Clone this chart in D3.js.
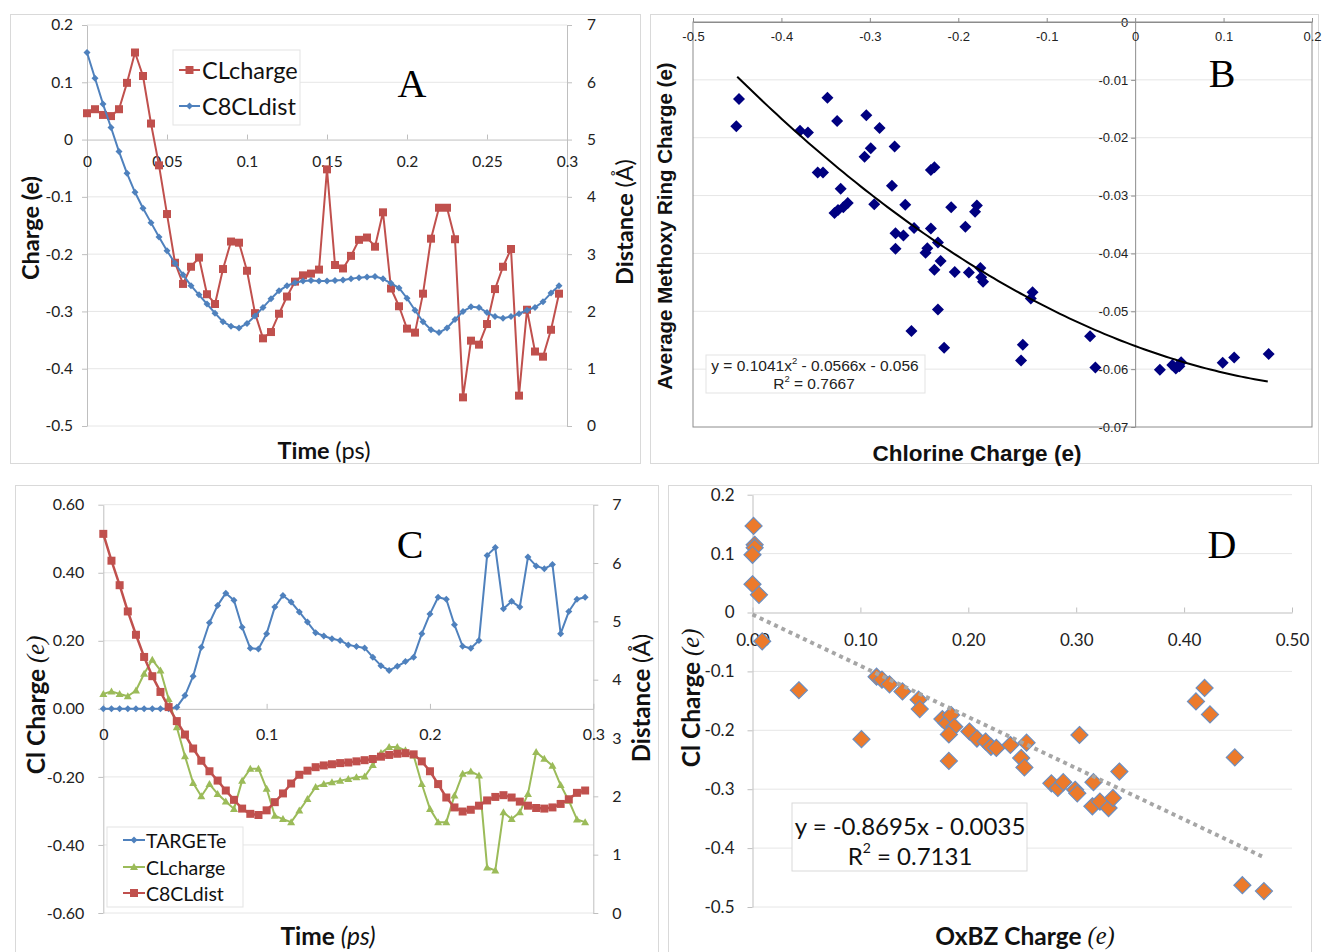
<!DOCTYPE html>
<html><head><meta charset="utf-8">
<script src="https://cdn.jsdelivr.net/npm/d3@7/dist/d3.min.js"></script>
<style>body{margin:0;background:#fff}svg{display:block}</style>
</head><body>
<svg id="chart" width="1322" height="952"></svg>
<script>
// ---------- DATA ----------
const time = [0,0.005,0.01,0.015,0.02,0.025,0.03,0.035,0.04,0.045,0.05,0.055,0.06,0.065,0.07,0.075,0.08,0.085,0.09,0.095,0.1,0.105,0.11,0.115,0.12,0.125,0.13,0.135,0.14,0.145,0.15,0.155,0.16,0.165,0.17,0.175,0.18,0.185,0.19,0.195,0.2,0.205,0.21,0.215,0.22,0.225,0.23,0.235,0.24,0.245,0.25,0.255,0.26,0.265,0.27,0.275,0.28,0.285,0.29,0.295];

// Panel A
const A_CLcharge = [0.046,0.053,0.043,0.041,0.053,0.099,0.152,0.111,0.028,-0.045,-0.130,-0.215,-0.252,-0.222,-0.206,-0.270,-0.287,-0.226,-0.178,-0.180,-0.229,-0.303,-0.347,-0.336,-0.304,-0.274,-0.248,-0.237,-0.234,-0.227,-0.052,-0.219,-0.225,-0.203,-0.175,-0.171,-0.187,-0.127,-0.260,-0.291,-0.330,-0.337,-0.269,-0.173,-0.119,-0.119,-0.174,-0.450,-0.351,-0.358,-0.322,-0.261,-0.222,-0.191,-0.447,-0.297,-0.370,-0.379,-0.332,-0.269];
const A_C8CLdist = [6.52,6.07,5.62,5.21,4.79,4.41,4.08,3.80,3.55,3.30,3.06,2.84,2.64,2.45,2.29,2.13,1.97,1.82,1.74,1.71,1.79,1.92,2.07,2.22,2.36,2.45,2.50,2.53,2.54,2.53,2.53,2.54,2.55,2.57,2.59,2.60,2.61,2.57,2.49,2.41,2.23,2.02,1.82,1.68,1.63,1.71,1.86,2.00,2.08,2.07,1.98,1.91,1.88,1.91,1.96,2.02,2.07,2.17,2.32,2.45];
const A_xTicks = [0,0.05,0.1,0.15,0.2,0.25,0.3];
const A_xLabels = ["0","0.05","0.1","0.15","0.2","0.25","0.3"];
const A_yTicks = [0.2,0.1,0,-0.1,-0.2,-0.3,-0.4,-0.5];
const A_yLabels = ["0.2","0.1","0","-0.1","-0.2","-0.3","-0.4","-0.5"];
const A_y2Ticks = [0,1,2,3,4,5,6,7];
const A_y2Labels = ["0","1","2","3","4","5","6","7"];

// Panel B
const B_x = [-0.448,-0.451,-0.348,-0.337,-0.379,-0.370,-0.304,-0.289,-0.299,-0.306,-0.272,-0.359,-0.353,-0.333,-0.325,-0.330,-0.336,-0.340,-0.295,-0.275,-0.260,-0.231,-0.227,-0.271,-0.262,-0.271,-0.250,-0.231,-0.223,-0.235,-0.237,-0.220,-0.227,-0.208,-0.179,-0.181,-0.192,-0.204,-0.188,-0.175,-0.174,-0.172,-0.223,-0.253,-0.216,-0.116,-0.118,-0.127,-0.129,-0.051,-0.045,0.028,0.042,0.046,0.050,0.052,0.099,0.112,0.151];
const B_y = [-0.0133,-0.0180,-0.0131,-0.0171,-0.0188,-0.0191,-0.0161,-0.0183,-0.0218,-0.0233,-0.0215,-0.0260,-0.0260,-0.0288,-0.0313,-0.0320,-0.0325,-0.0330,-0.0315,-0.0283,-0.0316,-0.0256,-0.0251,-0.0365,-0.0369,-0.0392,-0.0356,-0.0357,-0.0381,-0.0391,-0.0399,-0.0413,-0.0428,-0.0320,-0.0317,-0.0328,-0.0354,-0.0432,-0.0433,-0.0425,-0.0441,-0.0449,-0.0497,-0.0534,-0.0563,-0.0467,-0.0478,-0.0558,-0.0585,-0.0543,-0.0597,-0.0601,-0.0593,-0.0599,-0.0595,-0.0588,-0.0589,-0.0580,-0.0574];
const B_fitCoef = [0.1041,-0.0566,-0.056];
const B_fitRange = [-0.45,0.15];
const B_xTicks = [-0.5,-0.4,-0.3,-0.2,-0.1,0,0.1,0.2];
const B_xLabels = ["-0.5","-0.4","-0.3","-0.2","-0.1","0","0.1","0.2"];
const B_yTicks = [0,-0.01,-0.02,-0.03,-0.04,-0.05,-0.06,-0.07];
const B_yLabels = ["0","-0.01","-0.02","-0.03","-0.04","-0.05","-0.06","-0.07"];

// Panel C
const C_TARGETe = [0,0,0,0,0,0,0,0,0,0.005,0.039,0.096,0.181,0.253,0.304,0.340,0.319,0.240,0.178,0.176,0.221,0.299,0.333,0.314,0.285,0.255,0.224,0.214,0.206,0.201,0.188,0.183,0.179,0.152,0.127,0.113,0.125,0.139,0.152,0.221,0.279,0.328,0.322,0.247,0.184,0.178,0.201,0.451,0.474,0.294,0.316,0.299,0.446,0.420,0.412,0.424,0.221,0.286,0.322,0.328];
const C_CLcharge = [0.044,0.051,0.044,0.037,0.054,0.103,0.144,0.113,0.029,-0.054,-0.139,-0.218,-0.257,-0.221,-0.250,-0.272,-0.294,-0.211,-0.176,-0.176,-0.235,-0.314,-0.324,-0.333,-0.299,-0.265,-0.230,-0.221,-0.216,-0.211,-0.206,-0.201,-0.199,-0.165,-0.130,-0.112,-0.112,-0.122,-0.137,-0.221,-0.294,-0.333,-0.333,-0.255,-0.191,-0.184,-0.196,-0.466,-0.475,-0.304,-0.324,-0.304,-0.250,-0.127,-0.147,-0.167,-0.224,-0.270,-0.325,-0.333];
const C_C8CLdist = [6.50,6.04,5.62,5.17,4.77,4.39,4.06,3.79,3.53,3.29,3.06,2.82,2.61,2.43,2.27,2.10,1.94,1.79,1.70,1.68,1.76,1.90,2.05,2.22,2.37,2.44,2.50,2.53,2.55,2.57,2.58,2.60,2.62,2.64,2.68,2.71,2.73,2.74,2.72,2.60,2.43,2.21,1.98,1.81,1.74,1.77,1.84,1.93,1.99,2.02,1.98,1.91,1.84,1.80,1.79,1.81,1.87,1.95,2.06,2.10];
const C_xTicks = [0,0.1,0.2,0.3];
const C_xLabels = ["0","0.1","0.2","0.3"];
const C_yTicks = [0.6,0.4,0.2,0,-0.2,-0.4,-0.6];
const C_yLabels = ["0.60","0.40","0.20","0.00","-0.20","-0.40","-0.60"];
const C_y2Ticks = [0,1,2,3,4,5,6,7];
const C_y2Labels = ["0","1","2","3","4","5","6","7"];

// Panel D
const D_x = [0.001,0.002,0.002,0.000,0.000,0.006,0.009,0.043,0.101,0.115,0.120,0.127,0.139,0.154,0.155,0.176,0.180,0.184,0.187,0.182,0.182,0.201,0.208,0.216,0.221,0.226,0.239,0.254,0.249,0.252,0.303,0.277,0.283,0.288,0.299,0.301,0.316,0.315,0.322,0.330,0.334,0.340,0.419,0.411,0.424,0.447,0.454,0.474];
const D_y = [0.147,0.115,0.110,0.098,0.048,0.030,-0.049,-0.132,-0.215,-0.109,-0.114,-0.122,-0.134,-0.148,-0.164,-0.181,-0.188,-0.174,-0.194,-0.207,-0.252,-0.202,-0.214,-0.219,-0.228,-0.230,-0.225,-0.221,-0.247,-0.263,-0.208,-0.290,-0.298,-0.288,-0.301,-0.307,-0.288,-0.329,-0.321,-0.332,-0.315,-0.270,-0.128,-0.151,-0.173,-0.246,-0.463,-0.473];
const D_fitCoef = [-0.8695,-0.0035];
const D_fitRange = [0,0.473];
const D_xTicks = [0,0.1,0.2,0.3,0.4,0.5];
const D_xLabels = ["0.00","0.10","0.20","0.30","0.40","0.50"];
const D_yTicks = [0.2,0.1,0,-0.1,-0.2,-0.3,-0.4,-0.5];
const D_yLabels = ["0.2","0.1","0","-0.1","-0.2","-0.3","-0.4","-0.5"];

// ---------- HELPERS ----------
const svg = d3.select("#chart");
svg.append("rect").attr("width",1322).attr("height",952).attr("fill","#fff");
const SANS = "Lato, 'Open Sans', sans-serif";
const ARIAL = "'Liberation Sans', Arial, sans-serif";
const SERIF = "'Liberation Serif', 'Times New Roman', serif";
const AXC = "#bfbfbf", GRID = "#e6e6e6";

function shape(type, s){
  const r = s/2;
  if(type==="square") return `M${-r},${-r}h${s}v${s}h${-s}Z`;
  if(type==="diamond") return `M0,${-r}L${r},0L0,${r}L${-r},0Z`;
  if(type==="triangle") return `M0,${-r}L${r},${r*0.75}L${-r},${r*0.75}Z`;
}
function series(g, xs, ys, xS, yS, color, mk, ms, lw){
  const pts = xs.map((x,i)=>[xS(x), yS(ys[i])]);
  g.append("path").attr("d", d3.line()(pts)).attr("fill","none").attr("stroke",color).attr("stroke-width",lw).attr("stroke-linejoin","round");
  g.selectAll(null).data(pts).enter().append("path")
    .attr("transform",d=>`translate(${d[0]},${d[1]})`).attr("d",shape(mk,ms)).attr("fill",color);
}
function styleAxis(sel, font, size, color, stroke){
  sel.select(".domain").attr("stroke",stroke||AXC);
  sel.selectAll(".tick line").attr("stroke",stroke||AXC);
  sel.selectAll(".tick text").attr("font-family",font).attr("font-size",size).attr("fill",color||"#222");
}
function grid(g, vals, yS, x0, x1){
  g.selectAll(null).data(vals).enter().append("line")
    .attr("x1",x0).attr("x2",x1).attr("y1",d=>yS(d)).attr("y2",d=>yS(d))
    .attr("stroke",GRID).attr("stroke-width",1);
}
function panelBox(x,y,w,h){
  svg.append("rect").attr("x",x+0.5).attr("y",y+0.5).attr("width",w).attr("height",h)
    .attr("fill","none").attr("stroke","#d9d9d9");
}
function rotTitle(g, x, y, parts, size){
  const t = g.append("text").attr("transform",`translate(${x},${y}) rotate(-90)`)
    .attr("text-anchor","middle").attr("dominant-baseline","central").attr("font-size",size).attr("fill","#111");
  parts.forEach(p=>t.append("tspan").text(p.t).attr("font-family",p.f).attr("font-weight",p.w||"normal").attr("font-style",p.s||"normal"));
}
function hTitle(g, x, y, parts, size){
  const t = g.append("text").attr("x",x).attr("y",y)
    .attr("text-anchor","middle").attr("dominant-baseline","central").attr("font-size",size).attr("fill","#111");
  parts.forEach(p=>t.append("tspan").text(p.t).attr("font-family",p.f).attr("font-weight",p.w||"normal").attr("font-style",p.s||"normal"));
}
function letter(x,y,t){
  svg.append("text").attr("x",x).attr("y",y).attr("text-anchor","middle")
    .attr("font-family",SERIF).attr("font-size",40).attr("fill","#000").text(t);
}

// ---------- PANEL A ----------
panelBox(10,14,630,449);
{
  const g = svg.append("g");
  const x = d3.scaleLinear().domain([0,0.3]).range([87,567]);
  const y = d3.scaleLinear().domain([-0.5,0.2]).range([426,25]);
  const y2 = d3.scaleLinear().domain([0,7]).range([426,25]);
  grid(g, A_yTicks.filter(d=>d!==0), y, 87, 567);
  const la = g.append("g").attr("transform","translate(87,0)")
    .call(d3.axisLeft(y).tickValues(A_yTicks).tickFormat((d,i)=>A_yLabels[i]).tickSizeInner(5).tickSizeOuter(0).tickPadding(9));
  styleAxis(la, SANS, 15.5);
  const ra = g.append("g").attr("transform","translate(567,0)")
    .call(d3.axisRight(y2).tickValues(A_y2Ticks).tickFormat((d,i)=>A_y2Labels[i]).tickSizeInner(5).tickSizeOuter(0).tickPadding(15));
  styleAxis(ra, SANS, 15.5);
  const ba = g.append("g").attr("transform",`translate(0,${y(0)})`)
    .call(d3.axisBottom(x).tickValues(A_xTicks).tickFormat((d,i)=>A_xLabels[i]).tickSizeInner(-5).tickSizeOuter(0).tickPadding(16));
  styleAxis(ba, SANS, 15.5);
  series(g, time, A_CLcharge, x, y, "#C0504D", "square", 8, 2);
  series(g, time, A_C8CLdist, x, y2, "#4F81BD", "diamond", 7, 2);
  // legend
  const lg = g.append("g");
  lg.append("rect").attr("x",173).attr("y",50).attr("width",127).attr("height",75).attr("fill","#fff").attr("stroke","#e3e3e3");
  [["CLcharge","#C0504D","square",8,70],["C8CLdist","#4F81BD","diamond",7,106]].forEach(r=>{
    lg.append("line").attr("x1",179).attr("x2",200).attr("y1",r[4]).attr("y2",r[4]).attr("stroke",r[1]).attr("stroke-width",2);
    lg.append("path").attr("transform",`translate(189.5,${r[4]})`).attr("d",shape(r[2],r[3])).attr("fill",r[1]);
    lg.append("text").attr("x",202).attr("y",r[4]).attr("dominant-baseline","central").attr("font-family",SANS).attr("font-size",23.5).attr("fill","#111").text(r[0]);
  });
  rotTitle(g, 30, 228, [{t:"Charge (e)",f:SANS,w:"bold"}], 23.5);
  rotTitle(g, 624, 222, [{t:"Distance ",f:SANS,w:"bold"},{t:"(Å)",f:SANS}], 23.5);
  hTitle(g, 324, 450, [{t:"Time ",f:SANS,w:"bold"},{t:"(ps)",f:SANS}], 23.5);
  letter(412, 97, "A");
}

// ---------- PANEL B ----------
panelBox(650,14,668,449);
{
  const g = svg.append("g");
  const x = d3.scaleLinear().domain([-0.5,0.2]).range([693,1312]);
  const y = d3.scaleLinear().domain([-0.07,0]).range([427,22]);
  grid(g, B_yTicks.filter(d=>d!==0 && d!==-0.07), y, 693, 1312);
  g.append("rect").attr("x",693).attr("y",22).attr("width",619).attr("height",405).attr("fill","none").attr("stroke","#8c8c8c");
  const ya = g.append("g").attr("transform",`translate(${x(0)},0)`)
    .call(d3.axisLeft(y).tickValues(B_yTicks).tickFormat((d,i)=>B_yLabels[i]).tickSizeInner(4).tickSizeOuter(0).tickPadding(3));
  styleAxis(ya, ARIAL, 13, "#222", "#8c8c8c");
  const xa = g.append("g").attr("transform",`translate(0,${y(0)})`)
    .call(d3.axisBottom(x).tickValues(B_xTicks).tickFormat((d,i)=>B_xLabels[i]).tickSizeInner(-4).tickSizeOuter(0).tickPadding(10));
  styleAxis(xa, ARIAL, 13, "#222", "#8c8c8c");
  g.selectAll(null).data(B_x).enter().append("path")
    .attr("transform",(d,i)=>`translate(${x(d)},${y(B_y[i])})`).attr("d",shape("diamond",12)).attr("fill","#000080");
  const fx = d3.range(B_fitRange[0], B_fitRange[1]+1e-9, 0.005);
  const fit = v => B_fitCoef[0]*v*v + B_fitCoef[1]*v + B_fitCoef[2];
  g.append("path").attr("d", d3.line()(fx.map(v=>[x(v),y(fit(v))]))).attr("fill","none").attr("stroke","#000").attr("stroke-width",2);
  g.append("rect").attr("x",706).attr("y",355).attr("width",219).attr("height",38).attr("fill","#fff").attr("stroke","#e3e3e3");
  const eq = g.append("text").attr("x",815).attr("y",365).attr("text-anchor","middle").attr("dominant-baseline","central").attr("font-family",ARIAL).attr("font-size",15.5).attr("fill","#222");
  eq.append("tspan").text("y = 0.1041x");
  eq.append("tspan").text("2").attr("font-size",9.5).attr("dy",-5);
  eq.append("tspan").text(" - 0.0566x - 0.056").attr("dy",5);
  const r2 = g.append("text").attr("x",814).attr("y",383).attr("text-anchor","middle").attr("dominant-baseline","central").attr("font-family",ARIAL).attr("font-size",15.5).attr("fill","#222");
  r2.append("tspan").text("R");
  r2.append("tspan").text("2").attr("font-size",9.5).attr("dy",-5);
  r2.append("tspan").text(" = 0.7667").attr("dy",5);
  rotTitle(g, 664, 226, [{t:"Average Methoxy Ring Charge (e)",f:ARIAL,w:"bold"}], 20.5);
  hTitle(g, 977, 453, [{t:"Chlorine Charge (e)",f:ARIAL,w:"bold"}], 22.5);
  letter(1222, 87, "B");
}

// ---------- PANEL C ----------
panelBox(15,485,643,480);
{
  const g = svg.append("g");
  const x = d3.scaleLinear().domain([0,0.3]).range([103.3,593.3]);
  const y = d3.scaleLinear().domain([-0.6,0.6]).range([913,504.7]);
  const y2 = d3.scaleLinear().domain([0,7]).range([913,504.7]);
  grid(g, C_yTicks.filter(d=>d!==0), y, 103.3, 593.3);
  const la = g.append("g").attr("transform","translate(103.3,0)")
    .call(d3.axisLeft(y).tickValues(C_yTicks).tickFormat((d,i)=>C_yLabels[i]).tickSizeInner(5).tickSizeOuter(0).tickPadding(14));
  styleAxis(la, SANS, 16);
  const ra = g.append("g").attr("transform","translate(593.3,0)")
    .call(d3.axisRight(y2).tickValues(C_y2Ticks).tickFormat((d,i)=>C_y2Labels[i]).tickSizeInner(5).tickSizeOuter(0).tickPadding(14));
  styleAxis(ra, SANS, 16);
  const ba = g.append("g").attr("transform",`translate(0,${y(0)})`)
    .call(d3.axisBottom(x).tickValues(C_xTicks).tickFormat((d,i)=>C_xLabels[i]).tickSizeInner(-5).tickSizeOuter(0).tickPadding(20));
  styleAxis(ba, SANS, 16);
  series(g, time, C_TARGETe, x, y, "#4F81BD", "diamond", 7, 2);
  series(g, time, C_CLcharge, x, y, "#9BBB59", "triangle", 8, 2);
  series(g, time, C_C8CLdist, x, y2, "#C0504D", "square", 8, 2.5);
  const lg = g.append("g");
  lg.append("rect").attr("x",107).attr("y",827).attr("width",136).attr("height",80).attr("fill","#fff").attr("stroke","#e3e3e3");
  [["TARGETe","#4F81BD","diamond",7,840],["CLcharge","#9BBB59","triangle",8,867],["C8CLdist","#C0504D","square",8,893]].forEach(r=>{
    lg.append("line").attr("x1",123).attr("x2",145).attr("y1",r[4]).attr("y2",r[4]).attr("stroke",r[1]).attr("stroke-width",2);
    lg.append("path").attr("transform",`translate(134,${r[4]})`).attr("d",shape(r[2],r[3])).attr("fill",r[1]);
    lg.append("text").attr("x",146).attr("y",r[4]).attr("dominant-baseline","central").attr("font-family",SANS).attr("font-size",19.5).attr("fill","#111").text(r[0]);
  });
  rotTitle(g, 35, 705, [{t:"Cl Charge ",f:SANS,w:"bold"},{t:"(e)",f:SERIF,s:"italic"}], 24.5);
  rotTitle(g, 640, 698, [{t:"Distance ",f:SANS,w:"bold"},{t:"(Å)",f:SANS}], 24);
  hTitle(g, 328, 935, [{t:"Time ",f:SANS,w:"bold"},{t:"(ps)",f:SANS,s:"italic"}], 24.5);
  letter(410, 558, "C");
}

// ---------- PANEL D ----------
panelBox(668,485,643,480);
{
  const g = svg.append("g");
  const x = d3.scaleLinear().domain([0,0.5]).range([752.5,1292]);
  const y = d3.scaleLinear().domain([-0.5,0.2]).range([907,494.7]);
  grid(g, D_yTicks.filter(d=>d!==0), y, 752.5, 1292);
  const la = g.append("g").attr("transform","translate(752.5,0)")
    .call(d3.axisLeft(y).tickValues(D_yTicks).tickFormat((d,i)=>D_yLabels[i]).tickSizeInner(5).tickSizeOuter(0).tickPadding(13));
  styleAxis(la, SANS, 17);
  const ba = g.append("g").attr("transform",`translate(0,${y(0)})`)
    .call(d3.axisBottom(x).tickValues(D_xTicks).tickFormat((d,i)=>D_xLabels[i]).tickSizeInner(-5).tickSizeOuter(0).tickPadding(21));
  styleAxis(ba, SANS, 17);
  g.selectAll(null).data(D_x).enter().append("path")
    .attr("transform",(d,i)=>`translate(${x(d)},${y(D_y[i])})`).attr("d",shape("diamond",17))
    .attr("fill","#EC7A2B").attr("stroke","#6C8EBF").attr("stroke-width",1.2);
  const fy = v => D_fitCoef[0]*v + D_fitCoef[1];
  g.append("line").attr("x1",x(D_fitRange[0])).attr("y1",y(fy(D_fitRange[0]))).attr("x2",x(D_fitRange[1])).attr("y2",y(fy(D_fitRange[1])))
    .attr("stroke","#a6a6a6").attr("stroke-width",4).attr("stroke-dasharray","4,4");
  g.append("rect").attr("x",792).attr("y",803).attr("width",235).attr("height",68).attr("fill","#fff").attr("stroke","#d9d9d9");
  g.append("text").attr("x",910).attr("y",825).attr("text-anchor","middle").attr("dominant-baseline","central")
    .attr("font-family",SANS).attr("font-size",24).attr("fill","#111").text("y = -0.8695x - 0.0035");
  const r2 = g.append("text").attr("x",910).attr("y",855).attr("text-anchor","middle").attr("dominant-baseline","central")
    .attr("font-family",SANS).attr("font-size",24).attr("fill","#111");
  r2.append("tspan").text("R");
  r2.append("tspan").text("2").attr("font-size",14).attr("dy",-8);
  r2.append("tspan").text(" = 0.7131").attr("dy",8);
  rotTitle(g, 690, 698, [{t:"Cl Charge ",f:SANS,w:"bold"},{t:"(e)",f:SERIF,s:"italic"}], 24.5);
  hTitle(g, 1025, 935, [{t:"OxBZ Charge ",f:SANS,w:"bold"},{t:"(e)",f:SERIF,s:"italic"}], 24.5);
  letter(1222, 558, "D");
}
</script>
</body></html>
